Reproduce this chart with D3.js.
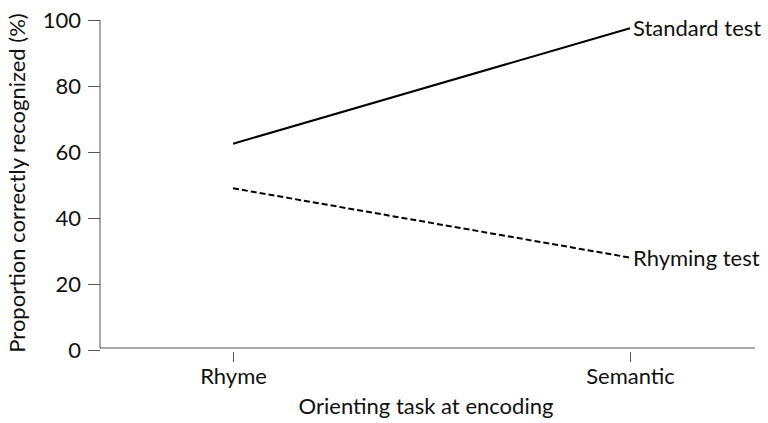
<!DOCTYPE html>
<html>
<head>
<meta charset="UTF-8" />
<script src="https://cdn.jsdelivr.net/npm/d3@7"></script>
<style>
  body { margin: 0; background: #fff; }
  text { font-family: Lato, "Open Sans", sans-serif; fill: #111; }
</style>
</head>
<body>
<script>
  // data
  var tasks = ["Rhyme", "Semantic"];
  var standardTest = [62.5, 97.5];
  var rhymingTest = [49, 28];
  var yTicks = [0, 20, 40, 60, 80, 100];

  var W = 768, H = 423;
  var fs = "22px";
  var svg = d3.select("body").append("svg").attr("width", W).attr("height", H);

  var x = d3.scalePoint().domain(tasks).range([233, 630]);
  var y = d3.scaleLinear().domain([0, 100]).range([350, 20]);

  // y axis
  var yAxis = svg.append("g").attr("transform", "translate(100,0)")
    .call(d3.axisLeft(y).tickValues(yTicks).tickSize(12).tickPadding(7).tickSizeOuter(0));
  yAxis.select(".domain").attr("stroke", "#555").attr("d", "M0,20V348");
  yAxis.selectAll(".tick line").attr("stroke", "#555");
  yAxis.selectAll("text").style("font-size", fs);

  // x axis
  svg.append("line").attr("x1", 100).attr("x2", 755).attr("y1", 348).attr("y2", 348)
    .attr("stroke", "#555");
  var xAxis = svg.append("g").attr("transform", "translate(0,352)")
    .call(d3.axisBottom(x).tickSize(10).tickPadding(6).tickSizeOuter(0));
  xAxis.select(".domain").remove();
  xAxis.selectAll(".tick line").attr("stroke", "#555");
  xAxis.selectAll("text").style("font-size", fs);

  svg.append("text").attr("x", 426).attr("y", 414).attr("text-anchor", "middle")
    .style("font-size", fs).text("Orienting task at encoding");
  svg.append("text").attr("transform", "translate(25,183) rotate(-90)")
    .attr("text-anchor", "middle").style("font-size", fs)
    .text("Proportion correctly recognized (%)");

  var line = d3.line().x(function (d, i) { return x(tasks[i]); }).y(function (d) { return y(d); });

  svg.append("path").datum(standardTest).attr("d", line)
    .attr("fill", "none").attr("stroke", "#000").attr("stroke-width", 2);
  svg.append("path").datum(rhymingTest).attr("d", line)
    .attr("fill", "none").attr("stroke", "#000").attr("stroke-width", 2)
    .attr("stroke-dasharray", "6,3");

  svg.append("text").attr("x", x("Semantic") + 3).attr("y", y(standardTest[1]) + 8)
    .style("font-size", fs).text("Standard test");
  svg.append("text").attr("x", x("Semantic") + 3).attr("y", y(rhymingTest[1]) + 8)
    .style("font-size", fs).text("Rhyming test");
</script>
</body>
</html>
